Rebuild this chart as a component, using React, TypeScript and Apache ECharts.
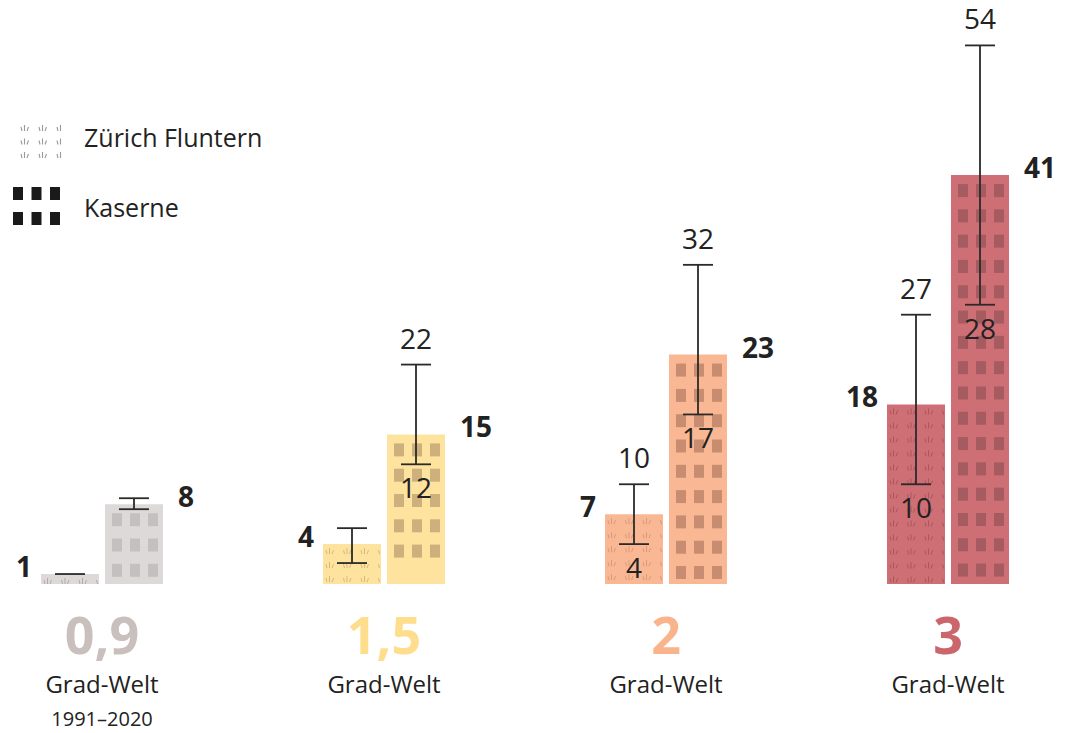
import React, { useEffect, useRef } from "react";
import * as echarts from "echarts";

// ---- data ----
const categories = ["0,9", "1,5", "2", "3"];
const subLabel = "Grad-Welt";
const periodLabel = "1991–2020";
const fluntern = [1, 4, 7, 18];
const kaserne = [8, 15, 23, 41];
const flunternLow = [1, 2.1, 4, 10];
const flunternHigh = [1, 5.6, 10, 27];
const kaserneLow = [7.5, 12, 17, 28];
const kaserneHigh = [8.6, 22, 32, 54];
const flunternShowRange = [false, false, true, true];
const kaserneShowRange = [false, true, true, true];
const legendNames = ["Zürich Fluntern", "Kaserne"];

// ---- styles ----
const barColors = ["#ddd9d8", "#fee39f", "#f9b893", "#cd6f74"];
const windowColors = ["#c5c0bf", "#cdb07c", "#c88d71", "#a65b60"];
const tuftColors = ["#b3a9a8", "#d3b882", "#d69a7a", "#a7565b"];
const catColors = ["#c9bfbd", "#fedd8c", "#f9b48c", "#cb666c"];
const FONT = "'Open Sans', 'Noto Sans', sans-serif";
const INK = "#222222";

function tuftPath(x0: number, y0: number, w: number, h: number, colStep: number, rowStep: number, xStart: number, yStart: number) {
  let d = "";
  for (let y = y0 + yStart; y + 6 <= y0 + h + 0.6; y += rowStep) {
    for (let x = x0 + xStart; x < x0 + w; x += colStep) {
      const strokes = [
        [x, y + 6, x - 1, y + 2],
        [x + 2.5, y + 6, x + 2.5, y],
        [x + 5, y + 6, x + 6.5, y + 2],
      ];
      for (const s of strokes) {
        if (Math.max(s[0], s[2]) <= x0 + w - 0.5) d += `M${s[0]} ${s[1]}L${s[2]} ${s[3]}`;
      }
    }
  }
  return d;
}

const legendTuftD = tuftPath(0, 0, 48, 40, 18, 13.5, 8, 1);
echarts.graphic.registerShape("legendTufts", echarts.graphic.extendPath(legendTuftD, {}) as any);

function makeRender(kind: "z" | "k") {
  return (params: any, api: any) => {
    const i = api.value(0);
    const v = api.value(1);
    const lo = api.value(2);
    const hi = api.value(3);
    const base = api.coord([i, 0]);
    const top = api.coord([i, v]);
    const off = kind === "z" ? -32 : 32;
    const cx = base[0] + off;
    const w = 58;
    const x0 = cx - w / 2;
    const y0 = top[1];
    const h = base[1] - top[1];
    const children: any[] = [];
    children.push({ type: "rect", shape: { x: x0, y: y0, width: w, height: h }, style: { fill: barColors[i] } });
    if (kind === "k") {
      for (let y = y0 + 9; y + 13 <= y0 + h - 4; y += 25.3) {
        for (const dx of [7, 25, 43]) {
          children.push({ type: "rect", shape: { x: x0 + dx, y, width: 10, height: 13 }, style: { fill: windowColors[i] } });
        }
      }
    } else {
      const d = tuftPath(x0, y0, w, h, 17.5, 14, 4, 4);
      if (d) {
        children.push({ type: "path", shape: { pathData: d }, style: { fill: "none", stroke: tuftColors[i], lineWidth: 1 } });
      }
    }
    const yHi = api.coord([i, hi])[1];
    const yLo = api.coord([i, lo])[1];
    const st = { stroke: "#2a2a2a", lineWidth: 1.8 };
    if (yLo - yHi > 0.5) {
      children.push({ type: "line", shape: { x1: cx, y1: yHi, x2: cx, y2: yLo }, style: st });
      children.push({ type: "line", shape: { x1: cx - 15, y1: yLo, x2: cx + 15, y2: yLo }, style: st });
    }
    children.push({ type: "line", shape: { x1: cx - 15, y1: yHi, x2: cx + 15, y2: yHi }, style: st });
    const show = kind === "z" ? flunternShowRange[i] : kaserneShowRange[i];
    if (show) {
      children.push({
        type: "text",
        style: { text: String(hi), x: cx, y: yHi - 27, align: "center", verticalAlign: "middle", fill: INK, fontSize: 28, lineHeight: 30, fontFamily: FONT },
      });
      children.push({
        type: "text",
        style: { text: String(lo), x: cx, y: yLo + 23, align: "center", verticalAlign: "middle", fill: INK, fontSize: 28, lineHeight: 30, fontFamily: FONT },
      });
    }
    children.push({
      type: "text",
      style: {
        text: String(v),
        x: kind === "z" ? x0 - 9 : x0 + w + 15,
        y: y0 - 8,
        align: kind === "z" ? "right" : "left",
        verticalAlign: "middle",
        fill: INK,
        fontSize: 28,
        lineHeight: 30,
        fontWeight: "bold",
        fontFamily: FONT,
      },
    });
    return { type: "group", children };
  };
}

export default function App() {
  const ref = useRef<HTMLDivElement>(null);
  useEffect(() => {
    document.body.style.margin = "0";
    const chart = echarts.init(ref.current!, null, { renderer: "svg" });
    const rich: any = {
      sub: { fontSize: 24, lineHeight: 34, color: INK, fontFamily: FONT },
      small: { fontSize: 20, lineHeight: 36, color: INK, fontFamily: FONT },
    };
    categories.forEach((c, k) => {
      rich["b" + k] = { fontSize: 52, fontWeight: "bold", lineHeight: 66, color: catColors[k], fontFamily: FONT };
    });
    const windowsIcon: any[] = [];
    for (const dy of [0, 25]) for (const dx of [0, 18.5, 37]) {
      windowsIcon.push({ type: "rect", shape: { x: 13 + dx, y: 187 + dy, width: 10, height: 13 }, style: { fill: "#1a1a1a" } });
    }
    chart.setOption({
      animation: false,
      grid: { left: 102, right: 133, top: 10, bottom: 149 },
      xAxis: {
        type: "category",
        data: categories,
        boundaryGap: false,
        axisLine: { show: false },
        axisTick: { show: false },
        axisLabel: {
          margin: 16,
          interval: 0,
          formatter: (val: string, idx: number) =>
            `{b${idx}|${val}}\n{sub|${subLabel}}` + (idx === 0 ? `\n{small|${periodLabel}}` : ""),
          rich,
        },
      },
      yAxis: { type: "value", min: 0, max: 57.55, show: false, splitLine: { show: false } },
      graphic: [
        { type: "legendTufts", x: 14, y: 124, style: { fill: "none", stroke: "#9a9a9a", lineWidth: 1.1 } },
        ...windowsIcon,
        { type: "text", x: 84, y: 137, style: { text: legendNames[0], fontSize: 25, fontFamily: FONT, fill: INK, verticalAlign: "middle" } },
        { type: "text", x: 84, y: 207, style: { text: legendNames[1], fontSize: 25, fontFamily: FONT, fill: INK, verticalAlign: "middle" } },
      ],
      series: [
        {
          type: "custom",
          name: legendNames[0],
          renderItem: makeRender("z"),
          encode: { x: 0, y: [1, 3] },
          data: fluntern.map((v, k) => [k, v, flunternLow[k], flunternHigh[k]]),
        },
        {
          type: "custom",
          name: legendNames[1],
          renderItem: makeRender("k"),
          encode: { x: 0, y: [1, 3] },
          data: kaserne.map((v, k) => [k, v, kaserneLow[k], kaserneHigh[k]]),
        },
      ],
    });
    return () => chart.dispose();
  }, []);
  return <div ref={ref} style={{ width: 1081, height: 733 }} />;
}
